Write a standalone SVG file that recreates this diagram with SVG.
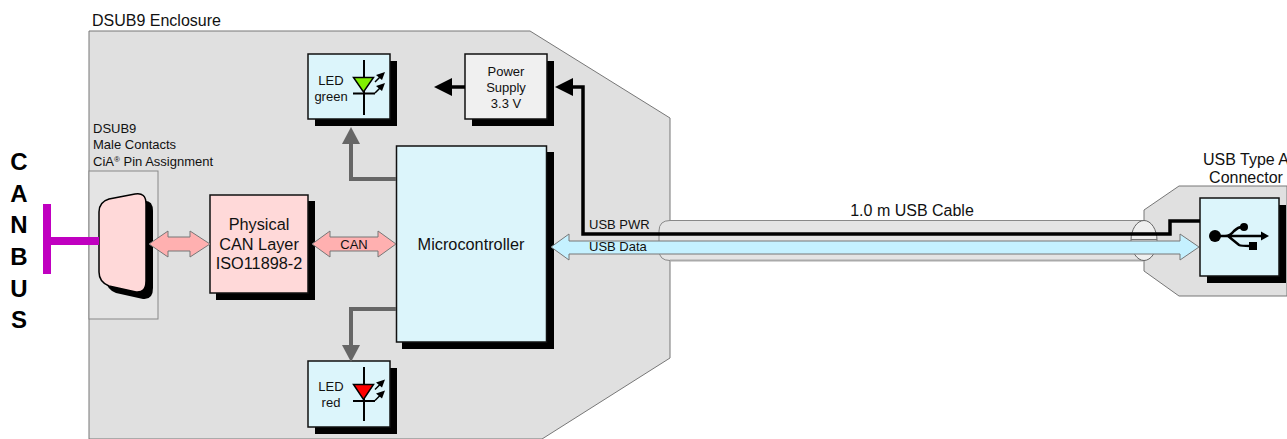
<svg xmlns="http://www.w3.org/2000/svg" width="1287" height="439" viewBox="0 0 1287 439">
<defs>
<style>
text{font-family:"Liberation Sans",Arial,sans-serif;fill:#111}
.c{text-anchor:middle}
.box{stroke:#111;stroke-width:1.5}
.sh{fill:#000}
.blue{fill:#dcf5fb}
.pink{fill:#ffd9d9}
.enc{fill:#e0e0e0;stroke:#777;stroke-width:1}
.pa{fill:#ffb0b0;stroke:#777;stroke-width:1}
.gl{fill:none;stroke:#666;stroke-width:4}
.bl{fill:none;stroke:#000;stroke-width:3.5}
.s12{font-size:13px}
.s13{font-size:13px}
.s14{font-size:16px}
.s15{font-size:16.300px}
.can{font-size:24px;font-weight:bold;text-anchor:middle;fill:#000}
</style>
</defs>
<g id="enclosure">
<polygon class="enc" points="89,439 89,31 530,31 670,118 670,358 542,439"/>
<text x="92" y="26" class="s14">DSUB9 Enclosure</text>
</g>
<g id="dsub9-panel">
<rect x="89" y="171" width="69" height="148" fill="#e4e4e4" stroke="#888"/>
<text x="93" y="133" class="s12">DSUB9</text>
<text x="93" y="149" class="s12">Male Contacts</text>
<text x="93" y="166" class="s12">CiA<tspan font-size="8" dy="-4">®</tspan><tspan dy="4"> Pin Assignment</tspan></text>
</g>
<g id="usb-connector-body">
<polygon class="enc" points="1287,186 1179,186 1144,210 1144,271 1179,296 1287,296" stroke="#999"/>
<text x="1246" y="165" class="s14 c">USB Type A</text>
<text x="1246" y="183" class="s14 c">Connector</text>
</g>
<g id="cable">
<path d="M1144,220.500H670Q659,220.500 659,231V250Q659,260.500 670,260.500H1144" fill="#e4e4e4" stroke="#888"/>
<path d="M670,260.500H1144" fill="none" stroke="#aaa" stroke-width="2"/>
<ellipse cx="1144" cy="240.500" rx="13" ry="20" fill="#efefef" stroke="#666"/>
<path d="M1131,239.500H1157" stroke="#777"/>
<text x="912" y="216" class="s14 c">1.0 m USB Cable</text>
</g>
<g id="canbus-label">
<text x="19" y="170" class="can">C</text>
<text x="19" y="202" class="can">A</text>
<text x="19" y="233" class="can">N</text>
<text x="19" y="265" class="can">B</text>
<text x="19" y="297" class="can">U</text>
<text x="19" y="328" class="can">S</text>
</g>
<g id="dsub9-connector">
<path class="sh" d="M106,219Q106,209 116,206L142,201Q153,199 153,211V288Q153,300 143,299L116,293Q106,289 106,279Z"/>
<path class="pink" stroke="#000" stroke-width="1.500" d="M99,212Q99,202 109,199L135,194Q146,192 146,204V281Q146,293 136,292L109,286Q99,282 99,272Z"/>
</g>
<g id="physical-can-layer">
<rect class="sh" x="216" y="201" width="99" height="99"/>
<rect class="box pink" x="210" y="195" width="98" height="98"/>
<text x="259" y="230" class="s15 c">Physical</text>
<text x="259" y="250" class="s15 c">CAN Layer</text>
<text x="259" y="269" class="s15 c">ISO11898-2</text>
</g>
<g id="microcontroller">
<rect class="sh" x="402" y="152" width="152" height="197"/>
<rect class="box blue" x="396.500" y="146" width="150" height="196"/>
<text x="471" y="250" class="s15 c">Microcontroller</text>
</g>
<g id="led-green">
<rect class="sh" x="315" y="61" width="82" height="65"/>
<rect class="box blue" x="308" y="54" width="82" height="65"/>
<text x="331" y="85" class="s13 c">LED</text>
<text x="331" y="101" class="s13 c">green</text>
<path d="M364,60V115M353,93.500H375" stroke="#000" stroke-width="2"/>
<polygon points="353.500,77.500 373.500,77.500 363.500,92" fill="#80f000" stroke="#000" stroke-width="1.500"/>
<path d="M375,82L381,76M375,93L381,87" stroke="#000" stroke-width="1.500"/>
<path d="M385,72L376,75L382,80ZM385,83L376,86L382,91Z" fill="#000"/>
</g>
<g id="power-supply">
<rect class="sh" x="472" y="61" width="82" height="65"/>
<rect class="box" fill="#f0f0f0" x="465" y="54" width="82" height="65"/>
<text x="506" y="76" class="s13 c">Power</text>
<text x="506" y="92" class="s13 c">Supply</text>
<text x="506" y="108" class="s13 c">3.3 V</text>
</g>
<g id="led-red">
<rect class="sh" x="315" y="368" width="82" height="66"/>
<rect class="box blue" x="308" y="361" width="82" height="66"/>
<text x="331" y="391" class="s13 c">LED</text>
<text x="331" y="407" class="s13 c">red</text>
<path d="M364,367V421M353,401H375" stroke="#000" stroke-width="2"/>
<polygon points="353.500,384.500 373.500,384.500 363.500,399.500" fill="#ff0000" stroke="#000" stroke-width="1.500"/>
<path d="M375,389.500L381,383.500M375,400.500L381,394.500" stroke="#000" stroke-width="1.500"/>
<path d="M385,379.500L376,382.500L382,387.500ZM385,390.500L376,393.500L382,398.500Z" fill="#000"/>
</g>
<g id="usb-type-a">
<rect class="sh" x="1207" y="205" width="79" height="78"/>
<rect class="box blue" x="1200" y="198" width="79" height="78"/>
<circle cx="1215" cy="236" r="6" fill="#000"/>
<path d="M1215,236H1264M1225,236Q1230,236 1234,231Q1238,227 1242,227M1228,236L1239,245Q1241,246 1250,246" fill="none" stroke="#000" stroke-width="2.500"/>
<circle cx="1244" cy="227" r="4" fill="#000"/>
<rect x="1249" y="242" width="8" height="8" fill="#000"/>
<polygon points="1269,236 1261,231.500 1261,240.500" fill="#000"/>
</g>
<g id="connectors">
<path class="bl" d="M573,87H583V234H1170V221H1200"/>
<polygon fill="#000" points="555,87 573,78 573,96"/>
<path class="bl" d="M465,87H451"/>
<polygon fill="#000" points="434,87 452,78 452,96"/>
<path class="gl" d="M396,179H351V143"/>
<polygon fill="#666" points="351,127 342,144 360,144"/>
<path class="gl" d="M396,309H351V346"/>
<polygon fill="#666" points="351,362 342,345 360,345"/>
<polygon fill="#c5f1ff" stroke="#777" points="551,247 569,234 569,241 1180,241 1180,234 1199,247 1180,260 1180,254 569,254 569,260"/>
<polygon class="pa" points="149,244 168,231 168,237 190,237 190,231 210,244 190,257 190,251 168,251 168,257"/>
<polygon class="pa" points="312,244 330,231 330,237 378,237 378,231 396,244 378,257 378,251 330,251 330,257"/>
<path d="M47,204V274M47,241H99" fill="none" stroke="#c000c0" stroke-width="8"/>
<text x="354" y="249" class="s12 c">CAN</text>
<text x="589" y="229" class="s12">USB PWR</text>
<text x="589" y="251" class="s12">USB Data</text>
</g>
</svg>
